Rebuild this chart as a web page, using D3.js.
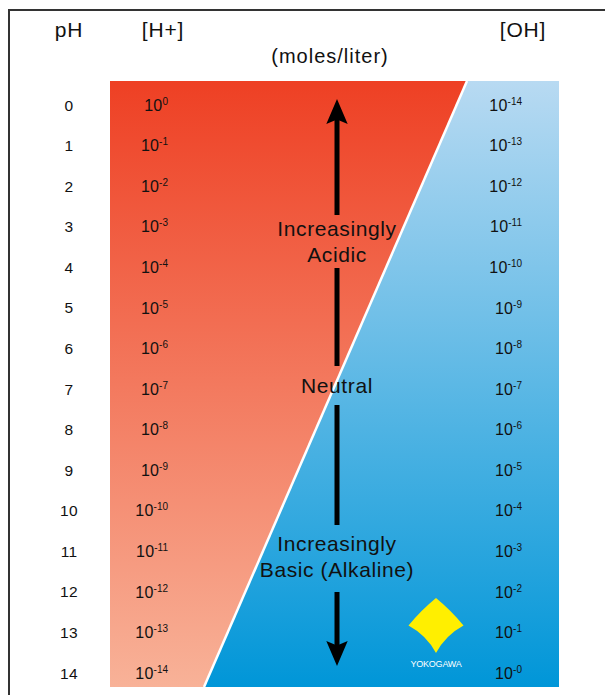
<!DOCTYPE html>
<html>
<head>
<meta charset="utf-8">
<script src="https://cdn.jsdelivr.net/npm/d3@7"></script>
<style>
  html, body { margin: 0; padding: 0; background: #fff; }
  svg { display: block; }
  text { font-family: "Liberation Sans", Arial, Helvetica, sans-serif; fill: #111; }
</style>
</head>
<body>
<svg id="chart" width="605" height="695"></svg>
<script>
// ---- data ----
const pHValues = [0, 1, 2, 3, 4, 5, 6, 7, 8, 9, 10, 11, 12, 13, 14];
const hExponents = ["0", "-1", "-2", "-3", "-4", "-5", "-6", "-7", "-8", "-9", "-10", "-11", "-12", "-13", "-14"];
const ohExponents = ["-14", "-13", "-12", "-11", "-10", "-9", "-8", "-7", "-6", "-5", "-4", "-3", "-2", "-1", "-0"];
const headers = ["pH", "[H+]", "[OH]"];
const unitLabel = "(moles/liter)";
const acidicLabel = ["Increasingly", "Acidic"];
const neutralLabel = ["Neutral"];
const basicLabel = ["Increasingly", "Basic (Alkaline)"];
const logoText = "YOKOGAWA";

// ---- layout ----
const svg = d3.select("#chart");
const W = 605, H = 695;
const y = d3.scaleLinear().domain([0, 14]).range([105, 673]);
const panel = { left: 110, right: 559, top: 81, bottom: 687 };
const diagTopX = 467, diagBottomX = 204;
const arrowX = 337;

const defs = svg.append("defs");
const red = defs.append("linearGradient").attr("id", "redGrad")
  .attr("x1", 0).attr("y1", panel.top).attr("x2", 0).attr("y2", panel.bottom)
  .attr("gradientUnits", "userSpaceOnUse");
red.append("stop").attr("offset", 0).attr("stop-color", "#EE4024");
red.append("stop").attr("offset", 1).attr("stop-color", "#F8B298");
const blue = defs.append("linearGradient").attr("id", "blueGrad")
  .attr("x1", 0).attr("y1", panel.top).attr("x2", 0).attr("y2", panel.bottom)
  .attr("gradientUnits", "userSpaceOnUse");
blue.append("stop").attr("offset", 0).attr("stop-color", "#B8DAF2");
blue.append("stop").attr("offset", 1).attr("stop-color", "#0096D8");

// frame
svg.append("line").attr("x1", 8).attr("x2", W).attr("y1", 10).attr("y2", 10)
  .attr("stroke", "#333").attr("stroke-width", 2);
svg.append("line").attr("x1", 9).attr("x2", 9).attr("y1", 10).attr("y2", H)
  .attr("stroke", "#333").attr("stroke-width", 2);

// panels
svg.append("path")
  .attr("d", `M${panel.left},${panel.top}L${diagTopX},${panel.top}L${diagBottomX},${panel.bottom}L${panel.left},${panel.bottom}Z`)
  .attr("fill", "url(#redGrad)");
svg.append("path")
  .attr("d", `M${diagTopX},${panel.top}L${panel.right},${panel.top}L${panel.right},${panel.bottom}L${diagBottomX},${panel.bottom}Z`)
  .attr("fill", "url(#blueGrad)");
svg.append("line")
  .attr("x1", diagTopX).attr("y1", panel.top).attr("x2", diagBottomX).attr("y2", panel.bottom)
  .attr("stroke", "#fff").attr("stroke-width", 2.5);

// headers
const headerX = [69, 163, 523];
svg.selectAll("text.header").data(headers).join("text")
  .attr("class", "header")
  .attr("x", (d, i) => headerX[i]).attr("y", 37)
  .attr("text-anchor", "middle")
  .style("font-size", "21px").style("letter-spacing", "0.8px")
  .text(d => d);
svg.append("text").attr("x", 330).attr("y", 63).attr("text-anchor", "middle")
  .style("font-size", "20px").style("letter-spacing", "1px")
  .text(unitLabel);

// pH column
svg.selectAll("text.ph").data(pHValues).join("text")
  .attr("class", "ph")
  .attr("x", 69).attr("y", d => y(d)).attr("dy", "0.36em")
  .attr("text-anchor", "middle")
  .style("font-size", "15.5px").style("letter-spacing", "0.3px")
  .text(d => d);

function powerLabels(cls, data, xEnd) {
  const t = svg.selectAll("text." + cls).data(data).join("text")
    .attr("class", cls)
    .attr("x", xEnd).attr("y", (d, i) => y(pHValues[i]))
    .attr("text-anchor", "end");
  t.append("tspan").attr("dy", "0.36em").style("font-size", "16px").style("letter-spacing", "0.2px").text("10");
  t.append("tspan").attr("dy", "-6").style("font-size", "10px").text(d => d);
}
powerLabels("hplus", hExponents, 168);
powerLabels("ohminus", ohExponents, 522);

// arrow
const shaft = 5;
function seg(y1, y2) {
  svg.append("rect").attr("x", arrowX - shaft / 2).attr("width", shaft)
    .attr("y", y1).attr("height", y2 - y1).attr("fill", "#000");
}
seg(118, 215);
seg(268, 366);
seg(405, 525);
seg(592, 648);
svg.append("path")
  .attr("d", `M${arrowX},99L${arrowX + 10.7},124L${arrowX},119.5L${arrowX - 10.7},124Z`)
  .attr("fill", "#000");
svg.append("path")
  .attr("d", `M${arrowX},666L${arrowX + 10.7},641L${arrowX},645.5L${arrowX - 10.7},641Z`)
  .attr("fill", "#000");

function block(lines, baseY) {
  svg.append("g").selectAll("text").data(lines).join("text")
    .attr("x", arrowX).attr("y", (d, i) => baseY + i * 26)
    .attr("text-anchor", "middle")
    .style("font-size", "21px").style("letter-spacing", "0.6px")
    .text(d => d);
}
block(acidicLabel, 236);
block(neutralLabel, 393);
block(basicLabel, 551);

// logo
const lc = { x: 436, y: 625.5 }, lr = 27.5;
svg.append("path")
  .attr("d", `M${lc.x},${lc.y - lr}` +
    `Q${lc.x + lr * 0.55},${lc.y - lr * 0.55} ${lc.x + lr},${lc.y}` +
    `Q${lc.x + lr * 0.35},${lc.y + lr * 0.35} ${lc.x},${lc.y + lr}` +
    `Q${lc.x - lr * 0.35},${lc.y + lr * 0.35} ${lc.x - lr},${lc.y}` +
    `Q${lc.x - lr * 0.55},${lc.y - lr * 0.55} ${lc.x},${lc.y - lr}Z`)
  .attr("fill", "#FFEF00");
svg.append("text").attr("x", lc.x).attr("y", 667).attr("text-anchor", "middle")
  .style("font-size", "9px").style("fill", "#fff").style("letter-spacing", "-0.2px")
  .text(logoText);
</script>
</body>
</html>
